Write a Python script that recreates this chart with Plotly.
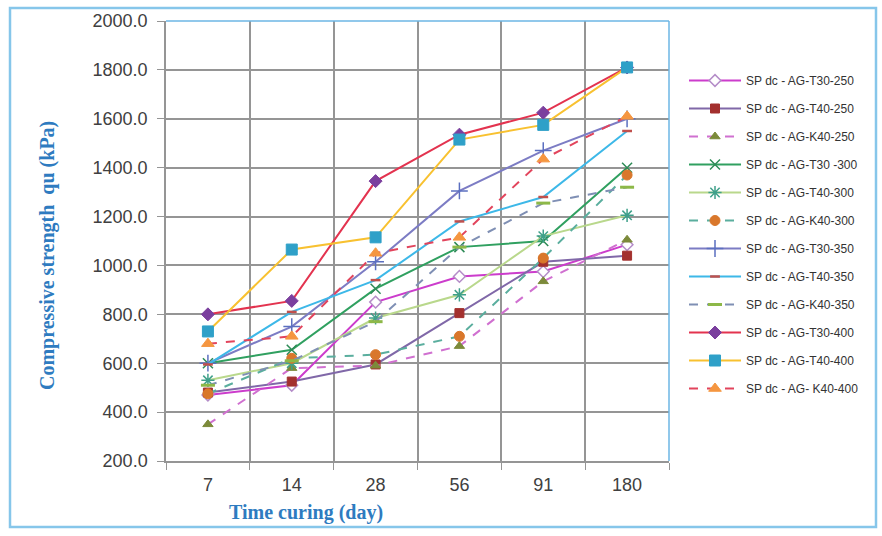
import plotly.graph_objects as go

days = ["7", "14", "28", "56", "91", "180"]

series_names = [
    "SP dc - AG-T30-250", "SP dc - AG-T40-250", "SP dc - AG-K40-250",
    "SP dc - AG-T30 -300", "SP dc - AG-T40-300", "SP dc - AG-K40-300",
    "SP dc - AG-T30-350", "SP dc - AG-T40-350", "SP dc - AG-K40-350",
    "SP dc - AG-T30-400", "SP dc - AG-T40-400", "SP dc - AG- K40-400",
]

t30_250 = [470, 510, 850, 955, 975, 1085]
t40_250 = [480, 525, 595, 805, 1015, 1040]
k40_250 = [350, 580, 590, 670, 935, 1105]
t30_300 = [600, 655, 905, 1075, 1100, 1400]
t40_300 = [530, 600, 785, 880, 1120, 1205]
k40_300 = [475, 620, 635, 710, 1030, 1370]
t30_350 = [600, 750, 1015, 1305, 1470, 1600]
t40_350 = [595, 810, 940, 1180, 1280, 1550]
k40_350 = [510, 610, 770, 1075, 1255, 1320]
t30_400 = [800, 855, 1345, 1535, 1625, 1810]
t40_400 = [730, 1065, 1115, 1515, 1575, 1810]
k40_400 = [680, 710, 1050, 1115, 1435, 1610]

values = [t30_250, t40_250, k40_250, t30_300, t40_300, k40_300,
          t30_350, t40_350, k40_350, t30_400, t40_400, k40_400]

styles = [
    dict(lc="#CC3CCC", dash="solid", sym="diamond", mc="#FFFFFF", ml="#B48CC8", ms=9, mlw=1.5),
    dict(lc="#8068A8", dash="solid", sym="square", mc="#A3302E", ml="#A3302E", ms=9, mlw=1),
    dict(lc="#D070D0", dash="dash", sym="triangle-up", mc="#7C8A3A", ml="#7C8A3A", ms=9, mlw=1),
    dict(lc="#30A060", dash="solid", sym="x-thin-open", mc="#2E8B57", ml="#2E8B57", ms=10, mlw=1.5),
    dict(lc="#B9D88C", dash="solid", sym="asterisk-open", mc="#3FA08A", ml="#3FA08A", ms=11, mlw=1.5),
    dict(lc="#5AAE9E", dash="dash", sym="circle", mc="#D9772B", ml="#D9772B", ms=10, mlw=1),
    dict(lc="#7C7CC4", dash="solid", sym="cross-thin-open", mc="#5B6FC0", ml="#5B6FC0", ms=12, mlw=1.5),
    dict(lc="#3DB8E8", dash="solid", sym="line-ew-open", mc="#C0504D", ml="#C0504D", ms=7, mlw=2.5),
    dict(lc="#7F8FB4", dash="dash", sym="line-ew-open", mc="#8DB848", ml="#8DB848", ms=10, mlw=3),
    dict(lc="#E3334F", dash="solid", sym="diamond", mc="#7B3F9E", ml="#7B3F9E", ms=10, mlw=1),
    dict(lc="#F8C130", dash="solid", sym="square", mc="#2FA0C8", ml="#2FA0C8", ms=11, mlw=1),
    dict(lc="#E2445C", dash="dash", sym="triangle-up", mc="#F59640", ml="#F59640", ms=11, mlw=1),
]

fig = go.Figure()
for i, (name, vals, st) in enumerate(zip(series_names, values, styles)):
    fig.add_trace(go.Scatter(
        x=days, y=vals, name=name, mode="lines+markers",
        legendgroup=f"g{i}",
        line=dict(color=st["lc"], width=2, dash=st["dash"]),
        marker=dict(symbol=st["sym"], color=st["mc"], size=st["ms"],
                    line=dict(color=st["ml"], width=st["mlw"])),
    ))

W, H = 882, 536
L, R, T, B = 166, 669, 21, 461
pw, ph = R - L, B - T

def px(x):
    return (x - L) / pw

def py(y):
    return (B - y) / ph

fig.update_layout(
    width=W, height=H,
    margin=dict(l=L, r=W - R, t=T, b=H - B),
    paper_bgcolor="white", plot_bgcolor="white",
    showlegend=True,
    legend=dict(
        x=px(684), y=py(66), xanchor="left", yanchor="top",
        font=dict(family="Liberation Sans", size=12, color="#333333"),
        tracegroupgap=9, itemwidth=52, bgcolor="rgba(0,0,0,0)",
    ),
    xaxis=dict(
        type="category", tickson="boundaries",
        showgrid=True, gridcolor="#959595", gridwidth=1.5,
        showline=True, linecolor="#959595", linewidth=1.5,
        ticks="outside", ticklen=7, tickcolor="#959595",
        tickfont=dict(family="Liberation Sans", size=18, color="#404040"),
        ticklabelstandoff=7,
        range=[-0.5, 5.5],
    ),
    yaxis=dict(
        range=[200, 2000], dtick=200, tickformat=".1f",
        showgrid=True, gridcolor="#959595", gridwidth=1.5,
        showline=True, linecolor="#959595", linewidth=1.5,
        ticks="outside", ticklen=7, tickcolor="#959595",
        tickfont=dict(family="Liberation Sans", size=18, color="#404040"),
        ticklabelstandoff=6,
        zeroline=False,
    ),
    annotations=[
        dict(text="<b>Compressive strength  qu (kPa)</b>", xref="paper", yref="paper",
             x=px(47), y=py(256), xanchor="center", yanchor="middle",
             textangle=-90, showarrow=False,
             font=dict(family="Liberation Serif", size=20, color="#2E7BC0")),
        dict(text="<b>Time curing (day)</b>", xref="paper", yref="paper",
             x=px(306), y=py(512), xanchor="center", yanchor="middle", showarrow=False,
             font=dict(family="Liberation Serif", size=20, color="#2E7BC0")),
    ],
    shapes=[
        dict(type="rect", xref="paper", yref="paper",
             x0=px(10), x1=px(876), y0=py(527), y1=py(8),
             line=dict(color="#86C6EA", width=2.5), fillcolor="rgba(0,0,0,0)", layer="below"),
        dict(type="line", xref="paper", yref="paper", x0=0, x1=1, y0=1, y1=1,
             line=dict(color="#6CB6E4", width=1.5)),
        dict(type="line", xref="paper", yref="paper", x0=1, x1=1, y0=0, y1=1,
             line=dict(color="#6CB6E4", width=1.5)),
    ],
)

fig.write_html("out.html", config={"displayModeBar": False},
               post_script="document.body.style.margin='0px';")
